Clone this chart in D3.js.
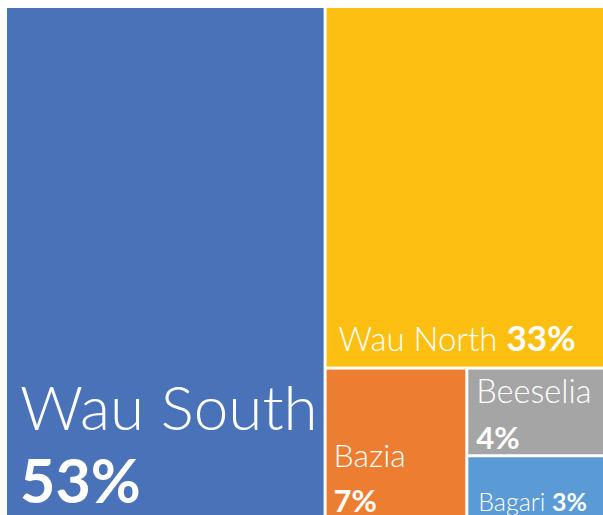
<!DOCTYPE html>
<html>
<head>
  <title>Treemap</title>
  <script src="https://d3js.org/d3.v7.min.js"></script>
  <style>
    body { margin: 0; background: #fff; overflow: hidden; }
    text { font-family: Lato, sans-serif; fill: #fff; }
  </style>
</head>
<body>
  <div id="chart"></div>
  <script>
    // Data
    const areas = ["Wau South", "Wau North", "Bazia", "Beeselia", "Bagari"];
    const shares = [53, 33, 7, 4, 3];
    const colors = ["#4A72B8", "#FDC012", "#ED7D31", "#A5A5A5", "#5B9BD5"];

    // label look per cell: stacked or inline, font sizes, offsets from cell bottom-left
    const labelStyle = {
      "Wau South": { stack: true, nameSize: 62, pctSize: 61, dx: 13, nameDy: 90, pctDy: 17 },
      "Wau North": { stack: false, nameSize: 33, pctSize: 35, dx: 12, nameDy: 16 },
      "Bazia":     { stack: true, nameSize: 32, pctSize: 31, dx: 7, nameDy: 53, pctDy: 8 },
      "Beeselia":  { stack: true, nameSize: 32.5, pctSize: 31, dx: 8, nameDy: 51, pctDy: 5 },
      "Bagari":    { stack: false, nameSize: 25, pctSize: 25, dx: 10, nameDy: 9 }
    };

    const width = 603;
    const height = 515;
    const margin = { top: 8, left: 7 };

    const svg = d3.select("#chart")
      .append("svg")
      .attr("width", width)
      .attr("height", height);

    const g = svg.append("g")
      .attr("transform", `translate(${margin.left}, ${margin.top})`);

    const root = d3.hierarchy({
      children: areas.map((a, i) => ({ name: a, value: shares[i], color: colors[i] }))
    })
      .sum(d => d.value || 0)
      .sort((a, b) => b.value - a.value);

    d3.treemap()
      .tile(d3.treemapSquarify.ratio(1))
      .size([600, 512])
      .paddingInner(3)(root);

    const cell = g.selectAll("g")
      .data(root.leaves())
      .enter()
      .append("g");

    cell.append("rect")
      .attr("x", d => d.x0)
      .attr("y", d => d.y0)
      .attr("width", d => d.x1 - d.x0)
      .attr("height", d => d.y1 - d.y0)
      .attr("fill", d => d.data.color);

    cell.each(function(d) {
      const s = labelStyle[d.data.name];
      const c = d3.select(this);
      if (s.stack) {
        c.append("text")
          .attr("x", d.x0 + s.dx)
          .attr("y", d.y1 - s.nameDy)
          .style("font-size", s.nameSize + "px")
          .style("font-weight", 300)
          .text(d.data.name);
        c.append("text")
          .attr("x", d.x0 + s.dx)
          .attr("y", d.y1 - s.pctDy)
          .style("font-size", s.pctSize + "px")
          .style("font-weight", 700)
          .text(d.data.value + "%");
      } else {
        const t = c.append("text")
          .attr("x", d.x0 + s.dx)
          .attr("y", d.y1 - s.nameDy);
        t.append("tspan")
          .style("font-size", s.nameSize + "px")
          .style("font-weight", 300)
          .text(d.data.name + " ");
        t.append("tspan")
          .style("font-size", s.pctSize + "px")
          .style("font-weight", 700)
          .text(d.data.value + "%");
      }
    });
  </script>
</body>
</html>
